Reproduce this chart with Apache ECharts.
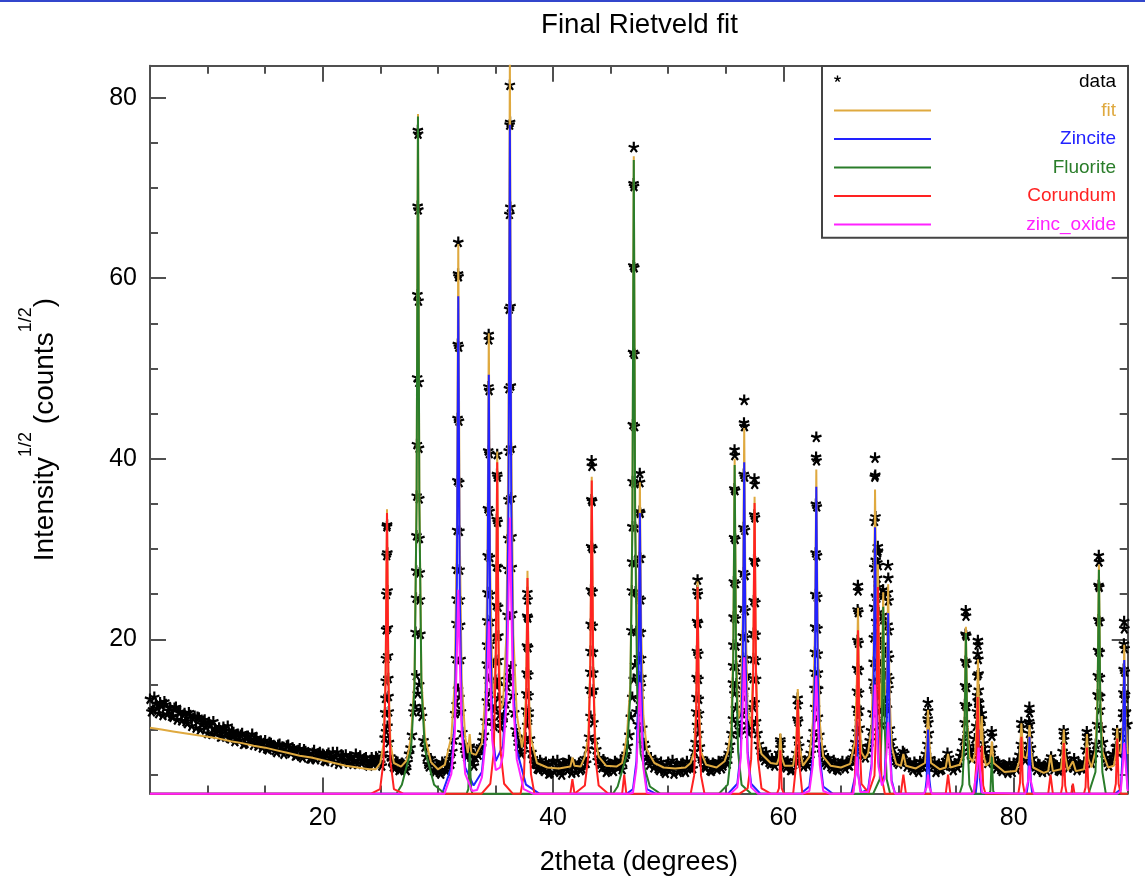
<!DOCTYPE html>
<html>
<head>
<meta charset="utf-8">
<title>Final Rietveld fit</title>
<script src="https://cdn.jsdelivr.net/npm/echarts@6.0.0/dist/echarts.min.js"></script>
<style>
  html, body { margin: 0; padding: 0; background: #fff; }
  #chart { width: 1145px; height: 882px; }
</style>
</head>
<body>
<div id="chart"></div>
<script>
const $ = document.querySelector.bind(document)

// axis ranges and ticks
const xMin = 5, xMax = 89.9
const yMin = 2.91, yMax = 83.54
const xMajorTicks = [20, 40, 60, 80]
const xMinorTicks = [10, 15, 25, 30, 35, 45, 50, 55, 65, 70, 75, 85]
const yMajorTicks = [20, 40, 60, 80]
const yMinorTicks = [5, 10, 15, 25, 30, 35, 45, 50, 55, 65, 70, 75]

// observed data, coarse scan A (start 5, step 0.25)
const obsStart = 5, obsStep = 0.25
const obsGrid = [
  13.4, 12.2, 12.9, 11.8, 12.6, 13.1, 11.7, 12.4, 11.4, 12.5, 11.9, 11.0,
  11.8, 10.7, 11.6, 11.2, 10.2, 11.3, 10.6, 11.1, 9.6, 10.5, 10.9, 9.7,
  10.2, 9.3, 9.9, 10.4, 9.0, 9.7, 9.2, 8.8, 9.6, 8.5, 9.3, 8.9,
  8.3, 9.1, 8.4, 8.0, 8.8, 7.8, 8.5, 8.2, 7.5, 8.4, 8.1, 7.6,
  8.3, 7.4, 7.8, 7.2, 7.9, 6.9, 7.6, 7.3, 6.8, 7.7, 7.0, 7.5,
  7.3, 6.5, 7.4, 6.8, 6.4, 7.5, 6.7, 7.1, 7.2, 6.3, 6.9, 6.6,
  6.2, 7.1, 6.5, 6.9, 6.0, 6.9, 6.3, 6.8, 6.3, 7.4, 9.8, 8.6,
  6.6, 5.7, 6.4, 5.6, 6.2, 5.5, 7.3, 9.4, 12.6, 14.0, 12.2, 8.8,
  7.0, 5.9, 6.5, 5.3, 5.9, 5.1, 6.2, 5.4, 6.8, 7.6, 11.8, 14.5,
  12.0, 8.3, 7.0, 8.0, 6.4, 6.9, 7.2, 8.1, 9.4, 13.2, 14.0, 11.0,
  12.4, 13.5, 10.2, 11.6, 14.8, 16.0, 13.8, 10.0, 8.2, 7.3, 8.4, 10.5,
  9.0, 6.8, 6.2, 5.6, 6.3, 5.4, 6.0, 5.2, 6.5, 5.6, 6.1, 5.0,
  6.2, 5.5, 6.4, 5.9, 5.3, 6.3, 5.7, 6.8, 7.9, 11.5, 10.8, 7.8,
  6.9, 5.8, 6.4, 5.5, 6.1, 5.4, 6.3, 6.0, 5.6, 7.0, 8.2, 11.4,
  15.6, 12.0, 13.4, 10.2, 8.0, 6.6, 6.9, 5.8, 6.3, 5.5, 6.0, 5.2,
  6.4, 5.7, 5.1, 6.2, 5.5, 6.3, 5.3, 6.0, 6.4, 7.6, 10.5, 8.1,
  6.5, 5.8, 6.2, 5.4, 6.1, 5.6, 6.4, 6.0, 6.8, 7.4, 9.6, 14.0,
  10.8, 10.0, 13.6, 12.2, 9.6, 10.4, 13.0, 9.6, 7.8, 7.0, 7.5, 6.4,
  6.8, 6.0, 6.6, 8.0, 6.5, 5.8, 6.2, 5.6, 6.6, 9.0, 6.9, 5.9,
  6.3, 6.8, 8.6, 12.5, 11.4, 8.0, 7.0, 6.1, 6.5, 5.7, 6.3, 5.5,
  6.2, 5.9, 6.4, 6.0, 6.9, 8.6, 11.5, 8.2, 7.2, 7.6, 8.8, 11.9,
  14.2, 13.6, 10.6, 11.8, 12.4, 10.1, 7.9, 6.6, 6.2, 6.9, 7.4, 5.9,
  6.3, 5.5, 6.1, 5.3, 6.0, 6.6, 8.4, 6.8, 5.9, 5.3, 6.2, 5.6,
  6.0, 7.4, 6.3, 5.5, 6.1, 6.6, 7.6, 10.8, 9.6, 7.2, 7.8, 10.4,
  11.2, 9.6, 7.5, 6.3, 7.1, 6.8, 5.7, 6.2, 5.4, 6.0, 5.2, 5.8,
  6.3, 5.6, 7.2, 7.9, 6.6, 8.4, 8.0, 6.2, 5.5, 6.1, 5.3, 5.9,
  6.2, 7.0, 5.6, 6.0, 5.4, 7.6, 7.3, 5.8, 6.4, 6.8, 5.5, 6.1,
  5.7, 7.8, 7.4, 6.3, 7.5, 10.6, 12.2, 8.6, 6.9, 6.0, 6.6, 7.0,
  8.2, 7.6, 11.4, 12.0
]

// observed data, coarse scan B (start 5.125, step 0.25)
const obsStartB = 5.125
const obsGridB = [
  12.0, 13.6, 12.4, 13.0, 11.6, 12.8, 12.1, 11.5, 12.4, 11.1, 12.0, 11.6,
  10.9, 11.9, 10.4, 11.5, 11.4, 10.0, 10.8, 10.3, 10.8, 9.5, 10.1, 9.9,
  9.2, 10.3, 9.6, 9.1, 9.8, 8.7, 9.5, 9.4, 8.4, 9.2, 8.8, 9.5,
  8.9, 8.2, 8.7, 8.5, 7.9, 8.6, 8.0, 7.7, 8.3, 7.7, 7.3, 8.2,
  7.6, 8.0, 7.1, 7.7, 7.1, 7.8, 7.2, 6.8, 7.4, 6.7, 7.3, 6.9,
  6.6, 7.2, 6.9, 7.5, 7.0, 6.2, 7.2, 6.5, 6.5, 7.0, 6.2, 7.3,
  6.9, 6.3, 6.8, 6.1, 6.6, 6.2, 7.0, 6.4, 6.0, 9.1, 10.4, 7.0,
  5.9, 6.5, 5.5, 6.3, 5.7, 6.4, 8.0, 12.0, 16.0, 15.0, 11.5, 8.1,
  6.2, 6.8, 5.5, 6.1, 5.3, 6.4, 5.6, 6.0, 6.2, 8.9, 12.8, 13.6,
  9.7, 7.4, 7.9, 7.2, 6.0, 7.4, 7.9, 8.8, 11.0, 15.6, 12.6, 10.4,
  14.8, 11.7, 10.8, 12.9, 15.5, 17.0, 11.9, 9.2, 7.6, 8.7, 9.1, 11.4,
  7.5, 6.3, 5.7, 6.6, 5.6, 6.4, 5.1, 6.2, 5.3, 6.6, 5.4, 6.3,
  5.7, 6.6, 5.2, 6.1, 6.0, 5.5, 6.5, 6.3, 9.2, 14.0, 8.9, 6.6,
  6.2, 6.7, 5.3, 6.2, 5.6, 6.5, 5.8, 6.6, 6.4, 7.3, 9.4, 13.6,
  17.2, 10.6, 14.8, 8.5, 7.0, 6.1, 6.4, 6.6, 5.7, 6.4, 5.4, 6.1,
  5.5, 6.6, 5.9, 5.3, 6.2, 5.6, 6.5, 5.8, 5.7, 8.6, 9.6, 6.8,
  5.9, 6.4, 5.5, 6.3, 5.8, 6.5, 5.7, 6.6, 6.2, 8.3, 11.2, 12.4,
  9.5, 11.8, 14.4, 10.6, 10.8, 12.5, 10.9, 8.4, 7.2, 6.6, 6.8, 6.2,
  6.3, 6.9, 7.4, 6.7, 6.0, 6.5, 5.5, 6.2, 7.4, 8.2, 6.3, 6.5,
  6.0, 7.4, 9.8, 14.6, 9.4, 7.5, 6.4, 6.8, 5.9, 6.6, 5.6, 6.1,
  6.5, 5.7, 6.1, 6.7, 7.6, 9.8, 10.2, 7.3, 6.9, 8.1, 9.9, 14.5,
  17.0, 12.1, 12.6, 13.2, 14.6, 8.8, 7.2, 6.4, 6.7, 7.6, 6.6, 6.3,
  5.8, 6.4, 5.6, 6.5, 5.9, 7.3, 9.6, 6.2, 6.4, 5.8, 5.5, 6.3,
  6.6, 6.9, 5.9, 6.2, 5.8, 7.1, 8.8, 12.6, 8.2, 6.8, 9.0, 13.2,
  10.4, 8.5, 6.9, 6.6, 8.0, 6.2, 6.4, 5.6, 6.1, 5.5, 6.3, 5.3,
  5.9, 6.6, 8.4, 6.9, 7.4, 9.6, 6.8, 5.9, 6.2, 5.6, 6.0, 5.4,
  6.6, 6.3, 6.1, 5.5, 6.2, 8.9, 6.4, 6.2, 5.8, 6.0, 6.3, 5.7,
  6.4, 8.8, 6.6, 6.9, 8.4, 13.8, 10.2, 7.4, 6.4, 6.5, 7.3, 8.1,
  7.4, 9.2, 13.5, 10.6
]

// observed data, points on the peak flanks [2theta, y]
const obsPeaks = [
  [25.57, 32.5], [25.55, 29.3], [25.53, 25.0], [25.51, 21.1], [25.49, 17.9], [25.47, 15.4], [25.45, 13.5], [25.43, 11.9],
  [25.59, 32.7], [25.61, 29.6], [25.63, 25.4], [25.65, 21.3], [25.67, 18.2], [25.69, 15.7], [25.71, 13.7], [25.73, 12.0],
  [28.26, 76.4], [28.24, 68.0], [28.22, 58.2], [28.20, 49.0], [28.18, 41.6], [28.16, 35.9], [28.14, 31.5], [28.12, 27.6], [28.10, 24.6], [28.06, 20.8],
  [28.28, 76.0], [28.30, 67.6], [28.32, 57.5], [28.34, 48.5], [28.36, 41.2], [28.38, 35.6], [28.40, 31.2], [28.42, 27.4], [28.44, 24.4], [28.48, 20.6],
  [31.77, 64.0], [31.75, 60.5], [31.79, 60.2], [31.73, 52.7], [31.81, 52.4], [31.71, 44.5], [31.83, 44.2], [31.69, 37.6], [31.85, 37.4],
  [31.67, 32.1], [31.87, 32.0], [31.65, 27.8], [31.89, 27.7], [31.63, 24.5], [31.91, 24.4], [31.61, 21.8], [31.93, 21.6], [31.57, 17.9], [31.97, 17.8],
  [32.74, 7.6], [32.76, 8.2], [32.78, 7.4],
  [34.41, 53.8], [34.43, 53.2], [34.39, 48.0], [34.45, 47.6], [34.37, 40.9], [34.47, 40.6], [34.35, 34.5], [34.49, 34.2], [34.33, 29.3],
  [34.51, 29.1], [34.31, 25.2], [34.53, 25.0], [34.29, 22.1], [34.55, 22.0], [34.27, 19.4], [34.57, 19.5], [34.25, 17.3], [34.59, 17.4],
  [35.15, 40.5], [35.13, 38.3], [35.17, 38.0], [35.11, 33.3], [35.19, 33.0], [35.09, 28.1], [35.21, 28.0], [35.07, 23.8],
  [35.23, 23.6], [35.05, 20.3], [35.25, 20.4], [35.03, 17.6], [35.27, 17.7], [35.01, 15.5], [35.29, 15.6],
  [36.25, 81.4], [36.23, 77.0], [36.27, 77.3], [36.21, 67.1], [36.29, 67.9], [36.19, 56.6], [36.31, 56.9], [36.17, 47.8], [36.33, 48.1],
  [36.15, 40.9], [36.35, 41.2], [36.13, 35.5], [36.37, 35.7], [36.11, 31.2], [36.39, 31.4], [36.09, 27.8], [36.41, 28.0], [36.05, 22.7], [36.45, 22.9],
  [37.77, 25.2], [37.79, 24.4], [37.75, 22.6], [37.81, 22.4], [37.73, 19.3], [37.83, 19.1], [37.71, 16.3], [37.85, 16.1], [37.69, 14.0], [37.87, 13.8], [37.67, 12.2], [37.89, 12.0],
  [43.35, 39.8], [43.37, 39.2], [43.33, 35.5], [43.39, 35.3], [43.31, 30.3], [43.41, 30.1], [43.29, 25.5], [43.43, 25.3],
  [43.27, 21.7], [43.45, 21.5], [43.25, 18.7], [43.47, 18.6], [43.23, 16.4], [43.49, 16.3], [43.21, 14.5], [43.51, 14.4],
  [47.01, 74.5], [46.99, 70.5], [47.03, 70.2], [46.97, 61.4], [47.05, 61.2], [46.95, 51.8], [47.07, 51.6], [46.93, 43.8], [47.09, 43.6],
  [46.91, 37.5], [47.11, 37.3], [46.89, 32.5], [47.13, 32.4], [46.87, 28.6], [47.15, 28.5], [46.85, 25.4], [47.17, 25.3], [46.81, 21.0], [47.21, 20.9],
  [47.53, 38.4], [47.55, 37.4], [47.51, 34.2], [47.57, 34.0], [47.49, 29.1], [47.59, 29.0], [47.47, 24.6], [47.61, 24.4],
  [47.45, 20.9], [47.63, 20.8], [47.43, 18.0], [47.65, 17.9], [47.41, 15.9], [47.67, 15.8],
  [52.55, 26.6], [52.53, 25.4], [52.57, 25.0], [52.51, 22.0], [52.59, 21.8], [52.49, 18.7], [52.61, 18.4], [52.47, 15.8], [52.63, 15.6],
  [52.45, 13.6], [52.65, 13.4], [52.43, 12.0], [52.67, 11.8],
  [55.76, 41.0], [55.78, 40.4], [55.74, 36.7], [55.80, 36.5], [55.72, 31.3], [55.82, 31.1], [55.70, 26.4], [55.84, 26.2],
  [55.68, 22.5], [55.86, 22.3], [55.66, 19.4], [55.88, 19.3], [55.64, 17.1], [55.90, 17.0], [55.62, 15.2], [55.92, 15.1],
  [56.60, 46.5], [56.58, 44.0], [56.62, 43.6], [56.56, 38.3], [56.64, 38.0], [56.54, 32.4], [56.66, 32.1], [56.52, 27.4], [56.68, 27.1],
  [56.50, 23.5], [56.70, 23.2], [56.48, 20.4], [56.72, 20.2], [56.46, 18.0], [56.74, 17.9], [56.44, 16.1], [56.76, 16.0],
  [57.49, 37.8], [57.51, 37.2], [57.47, 33.8], [57.53, 33.5], [57.45, 28.8], [57.55, 28.6], [57.43, 24.3], [57.57, 24.1],
  [57.41, 20.7], [57.59, 20.5], [57.39, 17.9], [57.61, 17.7], [57.37, 15.7], [57.63, 15.6],
  [59.73, 8.9], [59.75, 8.6], [61.24, 13.5], [61.26, 12.8], [61.22, 11.2], [61.28, 10.9],
  [62.86, 42.4], [62.84, 40.2], [62.88, 39.8], [62.82, 35.0], [62.90, 34.7], [62.80, 29.6], [62.92, 29.3], [62.78, 25.0], [62.94, 24.7],
  [62.76, 21.4], [62.96, 21.2], [62.74, 18.6], [62.98, 18.4], [62.72, 16.4], [63.00, 16.3], [62.70, 14.6], [63.02, 14.5],
  [66.47, 26.0], [66.49, 25.4], [66.45, 23.3], [66.51, 23.0], [66.43, 19.9], [66.53, 19.6], [66.41, 16.8], [66.55, 16.6], [66.39, 14.3], [66.57, 14.1], [66.37, 12.4], [66.59, 12.2],
  [67.96, 40.1], [67.94, 38.0], [67.98, 38.2], [67.92, 33.1], [68.00, 33.6], [67.90, 28.0], [68.02, 28.8], [67.88, 23.6],
  [68.04, 24.8], [67.86, 20.2], [68.06, 22.0], [67.84, 17.5], [68.08, 20.5], [67.82, 15.4], [68.10, 20.0],
  [68.12, 24.6], [68.14, 26.8], [68.16, 28.5], [68.18, 29.6], [68.20, 30.3], [68.22, 29.8], [68.24, 28.2], [68.26, 25.8],
  [68.28, 23.0], [68.30, 20.1], [68.32, 17.6], [68.34, 15.5],
  [68.66, 25.5], [68.68, 24.9], [68.64, 22.7], [68.70, 22.2], [68.62, 19.4], [68.72, 19.0], [68.60, 16.6], [68.74, 16.3],
  [69.09, 28.2], [69.11, 26.8], [69.07, 25.2], [69.13, 24.3], [69.05, 21.6], [69.15, 21.0], [69.03, 18.5], [69.17, 18.0], [69.01, 16.0], [69.19, 15.6],
  [72.55, 13.0], [72.57, 12.1], [72.53, 11.2], [72.59, 10.8],
  [75.84, 23.2], [75.86, 22.6], [75.82, 20.6], [75.88, 20.4], [75.80, 17.6], [75.90, 17.4], [75.78, 14.9], [75.92, 14.7], [75.76, 12.8], [75.94, 12.6],
  [76.89, 19.9], [76.91, 19.4], [76.87, 18.4], [76.93, 17.8], [76.85, 16.0], [76.95, 16.2], [76.83, 13.8], [76.97, 14.4],
  [76.81, 12.0], [76.99, 13.0], [77.01, 12.4], [77.22, 11.8], [77.24, 11.2],
  [78.09, 9.8], [78.11, 9.3], [80.66, 10.8], [80.68, 10.2], [81.36, 12.5], [81.38, 11.9], [81.34, 10.9], [81.40, 10.6],
  [84.34, 9.9], [84.36, 9.5], [86.35, 9.8], [86.37, 9.3],
  [87.39, 29.3], [87.41, 28.6], [87.37, 26.0], [87.43, 25.8], [87.35, 22.2], [87.45, 22.0], [87.33, 18.8], [87.47, 18.6],
  [87.31, 16.0], [87.49, 15.8], [87.29, 13.9], [87.51, 13.7],
  [88.98, 9.9], [89.00, 9.4],
  [89.59, 22.0], [89.61, 21.2], [89.57, 19.5], [89.63, 19.0], [89.55, 16.7], [89.65, 16.4], [89.53, 14.1], [89.67, 13.9], [89.51, 12.0], [89.69, 11.9]
]

// fitted pattern
const fitCurve = [
  [5, 10.2], [6, 10.0], [7, 9.8], [8, 9.6], [9, 9.4], [10, 9.2], [11, 9.0], [12, 8.7], [13, 8.5], [14, 8.2], [15, 8.0], [16, 7.7],
  [17, 7.4], [18, 7.1], [19, 6.9], [20, 6.6], [21, 6.3], [22, 6.0], [23, 5.8], [24, 5.6], [24.6, 5.6],
  [25.0, 6.3], [25.28, 8.4], [25.46, 16.2], [25.58, 34.4], [25.70, 16.2], [25.88, 8.4], [26.18, 6.3], [26.8, 5.9], [27.3, 6.6],
  [27.67, 9.2], [27.97, 15.6], [28.15, 35.4], [28.27, 78.2], [28.39, 35.4], [28.57, 15.6], [28.87, 9.2], [29.4, 6.4], [30.0, 5.6], [30.6, 6.1],
  [31.17, 9.2], [31.47, 15.5], [31.65, 32.3], [31.77, 63.8], [31.89, 32.3], [32.07, 15.5], [32.37, 9.2], [32.6, 7.4], [32.76, 9.5], [32.9, 7.4], [33.3, 7.2],
  [33.82, 8.5], [34.12, 13.7], [34.30, 27.8], [34.42, 53.9], [34.54, 27.8], [34.72, 15.4], [34.9, 13.5], [35.03, 19.5], [35.15, 40.8],
  [35.27, 19.6], [35.45, 12.2], [35.65, 12.8], [35.95, 20.5], [36.13, 42.6], [36.25, 84.6], [36.37, 42.6], [36.55, 20.5], [36.85, 11.7],
  [37.3, 8.0], [37.48, 9.6], [37.66, 14.1], [37.78, 27.6], [37.90, 14.0], [38.08, 9.0], [38.6, 6.3],
  [39.5, 5.8], [40.5, 5.7], [41.5, 5.9], [41.68, 6.9], [41.86, 6.0], [42.4, 5.9], [42.76, 7.0], [43.06, 9.2], [43.24, 17.8], [43.36, 38.0],
  [43.48, 17.8], [43.66, 9.2], [43.96, 7.0], [44.6, 6.0], [45.5, 5.9],
  [46.0, 6.3], [46.18, 7.5], [46.41, 9.3], [46.71, 15.0], [46.89, 33.4], [47.01, 73.5], [47.13, 34.0], [47.31, 18.4], [47.42, 22.1],
  [47.54, 37.4], [47.66, 20.9], [47.84, 11.6], [48.14, 7.8], [48.8, 6.3],
  [49.6, 5.8], [50.6, 5.7], [51.5, 5.8], [51.95, 6.3], [52.25, 7.5], [52.43, 12.8], [52.55, 26.4], [52.67, 12.8], [52.85, 7.5], [53.3, 6.1], [54.2, 5.8],
  [54.9, 6.5], [55.17, 7.5], [55.47, 10.0], [55.65, 19.1], [55.77, 40.0], [55.89, 19.3], [56.07, 11.2], [56.3, 12.3], [56.48, 22.8],
  [56.6, 43.4], [56.72, 22.6], [56.9, 12.1], [57.2, 10.3], [57.38, 17.3], [57.5, 35.8], [57.62, 16.9], [57.8, 9.2], [58.1, 7.3], [58.9, 6.3],
  [59.45, 6.2], [59.62, 6.9], [59.74, 9.6], [59.86, 6.9], [60.1, 6.0], [60.85, 6.0], [61.1, 8.2], [61.25, 14.5], [61.4, 8.2], [61.7, 6.0],
  [62.26, 7.0], [62.56, 10.8], [62.74, 20.9], [62.86, 38.8], [62.98, 20.9], [63.16, 10.8], [63.46, 7.0], [64.1, 6.0], [65.0, 5.8],
  [65.8, 6.2], [66.22, 8.8], [66.38, 15.5], [66.48, 23.5], [66.60, 12.0], [66.78, 7.5], [67.1, 6.8], [67.36, 7.4], [67.66, 10.4],
  [67.84, 19.4], [67.96, 36.6], [68.08, 22.3], [68.21, 28.3], [68.33, 15.3], [68.5, 12.4], [68.67, 25.2], [68.79, 13.8], [68.98, 15.1],
  [69.10, 26.1], [69.22, 14.2], [69.4, 8.1], [69.8, 6.2],
  [70.2, 6.0], [70.42, 7.3], [70.64, 6.0], [71.5, 5.7], [72.3, 6.3], [72.44, 8.6], [72.56, 12.2], [72.68, 8.6], [72.82, 6.3], [73.6, 5.6],
  [74.1, 5.8], [74.3, 7.3], [74.5, 5.8],
  [75.3, 6.1], [75.55, 7.0], [75.73, 10.7], [75.85, 21.4], [75.97, 10.7], [76.15, 7.0], [76.45, 6.4], [76.65, 7.5], [76.78, 10.6],
  [76.9, 17.8], [77.03, 9.6], [77.13, 8.8], [77.23, 11.5], [77.35, 7.4], [77.6, 6.0], [77.95, 6.4], [78.1, 8.7], [78.25, 6.3],
  [79.2, 5.3], [80.2, 5.4], [80.5, 6.5], [80.67, 10.7], [80.84, 7.0], [81.1, 6.8], [81.25, 7.8], [81.37, 10.5], [81.49, 7.8], [81.7, 5.8],
  [82.6, 5.2], [83.0, 5.4], [83.2, 7.2], [83.4, 5.4], [84.1, 5.6], [84.23, 7.1], [84.35, 10.0], [84.47, 7.1], [84.7, 5.5], [85.14, 6.5],
  [85.4, 5.4], [86.1, 5.6], [86.24, 6.8], [86.36, 9.5], [86.48, 6.8], [86.75, 5.8], [87.1, 7.6], [87.28, 13.6], [87.4, 28.3], [87.52, 13.6],
  [87.7, 7.6], [88.2, 5.8], [88.7, 6.0], [88.87, 7.3], [88.99, 10.2], [89.11, 7.4], [89.3, 7.4], [89.48, 10.6], [89.6, 19.4], [89.72, 10.6], [89.9, 7.3]
]

// phase contributions (held at the bottom edge of the plot)
const zinciteCurve = [
  [5, 2.9], [30.37, 2.9], [31.17, 5.8], [31.47, 11.0], [31.65, 26.1], [31.77, 58], [31.89, 26.1], [32.07, 11.0], [32.37, 5.8], [33.1, 3.8],
  [33.82, 5.3], [34.12, 9.4], [34.30, 22.2], [34.42, 49.3], [34.54, 22.2], [34.72, 10.0], [35.02, 6.5], [35.65, 8.2], [35.95, 14.7],
  [36.13, 34.7], [36.25, 77], [36.37, 34.7], [36.55, 14.6], [36.85, 7.7], [37.65, 3.9], [38.8, 2.9],
  [46.4, 2.9], [46.94, 3.4], [47.24, 6.5], [47.42, 15.3], [47.54, 34], [47.66, 15.3], [47.84, 6.5], [48.14, 3.4], [48.9, 2.9],
  [55.2, 2.9], [56.0, 4.0], [56.3, 7.5], [56.48, 17.8], [56.6, 39.6], [56.72, 17.8], [56.9, 7.5], [57.2, 4.0], [58.0, 2.9],
  [61.5, 2.9], [62.26, 3.7], [62.56, 7.0], [62.74, 16.6], [62.86, 36.9], [62.98, 16.6], [63.16, 7.0], [63.46, 3.7], [64.3, 2.9],
  [65.9, 2.9], [66.26, 5.0], [66.38, 11], [66.5, 5.0], [66.75, 3.0], [67.36, 3.4], [67.66, 6.2], [67.84, 14.6], [67.96, 32.4],
  [68.08, 14.6], [68.26, 6.4], [68.56, 4.1], [68.8, 5.0], [68.98, 10.5], [69.10, 22.9], [69.22, 10.3], [69.4, 4.4], [69.7, 2.9],
  [72.3, 2.9], [72.44, 4.5], [72.56, 10], [72.68, 4.5], [72.82, 2.9],
  [76.7, 2.9], [76.83, 4.5], [76.95, 10], [77.07, 4.5], [77.2, 2.9],
  [81.12, 2.9], [81.25, 4.1], [81.37, 9.2], [81.49, 4.1], [81.62, 2.9],
  [88.8, 2.9], [89.3, 3.4], [89.48, 8.0], [89.6, 17.7], [89.72, 8.0], [89.9, 3.4]
]
const fluoriteCurve = [
  [5, 2.9], [26.4, 2.9], [26.87, 3.9], [27.67, 7.8], [27.97, 14.8], [28.15, 35.1], [28.27, 77.9], [28.39, 35.1], [28.57, 14.8],
  [28.87, 7.8], [29.67, 3.9], [30.6, 2.9],
  [32.5, 2.9], [32.64, 3.4], [32.76, 7.5], [32.88, 3.4], [33.0, 2.9],
  [45.2, 2.9], [45.61, 3.7], [46.41, 7.3], [46.71, 13.9], [46.89, 32.9], [47.01, 73.1], [47.13, 32.9], [47.31, 13.9], [47.61, 7.3],
  [48.41, 3.7], [49.3, 2.9],
  [54.4, 2.9], [55.17, 3.9], [55.47, 7.5], [55.65, 17.7], [55.77, 39.3], [55.89, 17.7], [56.07, 7.5], [56.37, 3.9], [57.2, 2.9],
  [67.8, 2.9], [68.37, 4.5], [68.55, 10.6], [68.67, 23.6], [68.79, 10.6], [68.97, 4.5], [69.27, 2.9],
  [75.3, 2.9], [75.55, 3.9], [75.73, 9.3], [75.85, 20.7], [75.97, 9.3], [76.15, 3.9], [76.45, 2.9],
  [77.85, 2.9], [77.98, 3.2], [78.1, 7], [78.22, 3.2], [78.35, 2.9],
  [86.5, 2.9], [87.1, 5.3], [87.28, 12.5], [87.4, 27.7], [87.52, 12.5], [87.7, 5.3], [88.0, 2.9], [89.9, 2.9]
]
const corundumCurve = [
  [5, 2.9], [24.2, 2.9], [24.98, 3.4], [25.28, 6.5], [25.46, 15.3], [25.58, 34], [25.7, 15.3], [25.88, 6.5], [26.18, 3.4], [27.0, 2.9],
  [33.8, 2.9], [34.55, 4.0], [34.85, 7.5], [35.03, 17.8], [35.15, 39.6], [35.27, 17.8], [35.45, 7.5], [35.75, 4.0], [36.5, 2.9],
  [37.18, 2.9], [37.48, 5.1], [37.66, 12.1], [37.78, 26.8], [37.9, 12.1], [38.08, 5.1], [38.38, 2.9],
  [41.5, 2.9], [41.68, 4.5], [41.86, 2.9],
  [42.0, 2.9], [42.76, 3.8], [43.06, 7.1], [43.24, 16.9], [43.36, 37.6], [43.48, 16.9], [43.66, 7.1], [43.96, 3.8], [44.8, 2.9],
  [46.0, 2.9], [46.18, 5], [46.36, 2.9],
  [51.95, 2.9], [52.25, 4.9], [52.43, 11.6], [52.55, 25.8], [52.67, 11.6], [52.85, 4.9], [53.15, 2.9],
  [56.2, 2.9], [56.9, 3.5], [57.2, 6.7], [57.38, 15.8], [57.5, 35.1], [57.62, 15.8], [57.8, 6.7], [58.1, 3.5], [58.9, 2.9],
  [59.45, 2.9], [59.62, 3.5], [59.74, 7.7], [59.86, 3.5], [60.05, 2.9],
  [60.85, 2.9], [61.1, 6.0], [61.25, 13.3], [61.4, 6.0], [61.65, 2.9],
  [66.0, 2.9], [66.18, 4.0], [66.36, 9.5], [66.48, 21], [66.6, 9.5], [66.78, 4.0], [67.4, 3.0],
  [67.91, 4.9], [68.09, 11.6], [68.21, 25.8], [68.33, 11.6], [68.51, 4.9], [68.81, 2.9],
  [70.2, 2.9], [70.42, 5], [70.64, 2.9],
  [74.1, 2.9], [74.3, 5], [74.5, 2.9],
  [76.3, 2.9], [76.57, 3.0], [76.75, 6.1], [76.87, 13.6], [76.99, 6.4], [77.1, 4.6], [77.23, 8.2], [77.35, 3.8], [77.55, 2.9],
  [80.4, 2.9], [80.55, 4.1], [80.67, 9.2], [80.79, 4.1], [80.95, 2.9],
  [83.0, 2.9], [83.2, 5], [83.4, 2.9],
  [84.1, 2.9], [84.23, 3.8], [84.35, 8.5], [84.47, 3.8], [84.6, 2.9],
  [85.0, 2.9], [85.14, 4], [85.28, 2.9],
  [86.1, 2.9], [86.24, 3.6], [86.36, 8], [86.48, 3.6], [86.6, 2.9],
  [88.7, 2.9], [88.87, 4.0], [88.99, 9], [89.11, 4.0], [89.3, 2.9], [89.9, 2.9]
]
const zincOxideCurve = [
  [5, 2.9], [29.77, 2.9], [30.57, 2.9], [31.17, 5.1], [31.47, 9.7], [31.65, 18.4], [31.77, 25.5], [31.89, 18.4], [32.07, 9.7],
  [32.37, 5.1], [32.97, 3.2], [33.4, 3.3],
  [33.82, 4.7], [34.12, 8.4], [34.30, 15.8], [34.42, 22], [34.54, 15.8], [34.72, 8.8], [35.02, 5.5], [35.4, 5.8], [35.65, 7.1],
  [35.95, 12.8], [36.13, 24.1], [36.25, 33.5], [36.37, 24.1], [36.55, 12.7], [36.85, 6.7], [37.45, 3.4], [38.25, 2.9],
  [46.6, 2.9], [46.94, 3.0], [47.24, 5.8], [47.42, 10.9], [47.54, 15.2], [47.66, 10.9], [47.84, 5.8], [48.14, 3.0], [48.7, 2.9],
  [55.4, 2.9], [56.0, 3.6], [56.3, 6.8], [56.48, 13.0], [56.6, 18], [56.72, 13.0], [56.9, 6.8], [57.2, 3.6], [57.8, 2.9],
  [61.7, 2.9], [62.26, 3.2], [62.56, 6.1], [62.74, 11.5], [62.86, 16], [62.98, 11.5], [63.16, 6.1], [63.46, 3.2], [64.0, 2.9],
  [65.7, 2.9], [66.08, 2.9], [66.26, 5.0], [66.38, 7], [66.5, 5.0], [66.68, 3.1], [67.36, 3.1], [67.66, 5.7], [67.84, 10.8],
  [67.96, 15], [68.08, 10.8], [68.26, 5.9], [68.56, 3.8], [68.8, 4.6], [68.98, 7.9], [69.1, 10.8], [69.22, 7.8], [69.4, 4.1], [69.7, 2.9],
  [72.2, 2.9], [72.44, 3.6], [72.56, 5], [72.68, 3.6], [72.9, 2.9],
  [76.5, 2.9], [76.65, 3.0], [76.83, 5.8], [76.95, 8], [77.07, 5.8], [77.25, 3.0], [77.4, 2.9],
  [81.0, 2.9], [81.25, 4.3], [81.37, 6], [81.49, 4.3], [81.75, 2.9],
  [89.0, 2.9], [89.3, 3.2], [89.48, 6.1], [89.6, 8.5], [89.72, 6.1], [89.9, 3.2]
]

const legendNames = ['data', 'fit', 'Zincite', 'Fluorite', 'Corundum', 'zinc_oxide']
const colors = ['#000000', '#dfa93f', '#2222ff', '#2a7d2a', '#ff2222', '#ff22ff']

const font = "'Liberation Sans', Arial, sans-serif"
const axisColor = '#505050'

// five-arm asterisk marker
const starPath = 'path://M12 10L12 0L8 0L8 10Z M10.62 11.9L20.13 8.81L18.89 5.01L9.38 8.1Z ' +
  'M8.38 11.18L14.26 19.27L17.5 16.91L11.62 8.82Z M8.38 8.82L2.5 16.91L5.74 19.27L11.62 11.18Z ' +
  'M10.62 8.1L1.11 5.01L-0.13 8.81L9.38 11.9Z'
// same asterisk, with an empty point far right so it sits at the left of the legend slot
const legendStarPath = starPath + ' M280 38L280.01 38Z'
// plain line for the curve entries of the legend
const legendLinePath = 'path://M0 0L100 0L100 2L0 2Z'

window.onload = () => {
  renderChart()
}

function toAccuracy(val, n) {
  return Number(val.toFixed(n))
}

// x / y axis builder
function makeAxis(position, ticks, len, showLine) {
  return {
    type: 'value',
    position,
    splitLine: { show: false },
    axisLine: { show: showLine, onZero: false, lineStyle: { color: axisColor, width: 2 } },
    axisTick: { show: true, inside: true, length: len, customValues: ticks, lineStyle: { color: axisColor, width: 2 } },
    axisLabel: { show: false }
  }
}

function renderChart() {
  const obsData = obsGrid.map((y, i) => [toAccuracy(obsStart + i * obsStep, 3), y])
    .concat(obsGridB.map((y, i) => [toAccuracy(obsStartB + i * obsStep, 3), y]))
    .concat(obsPeaks)

  const xBottom = makeAxis('bottom', xMajorTicks, 16, true)
  xBottom.axisLabel = {
    show: true, customValues: xMajorTicks, margin: 12,
    color: '#000', fontSize: 25, fontFamily: font
  }
  xBottom.name = '2theta (degrees)'
  xBottom.nameLocation = 'middle'
  xBottom.nameGap = 55
  xBottom.nameTextStyle = { color: '#000', fontSize: 27, fontFamily: font }

  const yLeft = makeAxis('left', yMajorTicks, 16, true)
  yLeft.axisLabel = {
    show: true, customValues: yMajorTicks, margin: 13,
    color: '#000', fontSize: 25, fontFamily: font
  }
  yLeft.name = '{a|Intensity}{s|1/2}{a| (counts}{s|1/2}{a|)}'
  yLeft.nameLocation = 'middle'
  yLeft.nameRotate = 90
  yLeft.nameGap = 77
  yLeft.nameTextStyle = {
    color: '#000', fontFamily: font,
    rich: {
      a: { fontSize: 28, lineHeight: 56, color: '#000', fontFamily: font },
      s: { fontSize: 18, lineHeight: 16, verticalAlign: 'top', color: '#000', fontFamily: font }
    }
  }

  const xAxes = [
    xBottom,
    makeAxis('bottom', xMinorTicks, 8, false),
    makeAxis('top', xMajorTicks, 16, true),
    makeAxis('top', xMinorTicks, 8, false)
  ].map(a => Object.assign(a, { min: xMin, max: xMax }))

  const yAxes = [
    yLeft,
    makeAxis('left', yMinorTicks, 8, false),
    makeAxis('right', yMajorTicks, 16, true),
    makeAxis('right', yMinorTicks, 8, false)
  ].map(a => Object.assign(a, { min: yMin, max: yMax }))

  const lineSeries = (name, data, color, clip) => ({
    name,
    type: 'line',
    data,
    showSymbol: false,
    symbol: 'none',
    clip,
    lineStyle: { color, width: 2 },
    itemStyle: { color },
    emphasis: { disabled: true },
    silent: true
  })

  const rich = {}
  legendNames.forEach((n, i) => {
    rich['k' + i] = { color: colors[i], width: 180, align: 'right', fontSize: 19, lineHeight: 20, fontFamily: font }
  })

  const option = {
    animation: false,
    backgroundColor: '#fff',
    title: {
      text: 'Final Rietveld fit',
      left: 536,
      top: 6,
      textStyle: { color: '#000', fontSize: 27.7, fontWeight: 'normal', fontFamily: font }
    },
    graphic: [
      { type: 'rect', shape: { x: 0, y: 0, width: 1145, height: 2 }, style: { fill: '#3246cc' } }
    ],
    grid: { left: 150, right: 17.3, top: 65.7, bottom: 88.4, containLabel: false },
    legend: {
      orient: 'vertical',
      left: 822,
      top: 66,
      padding: [6.5, 12, 3.8, 12],
      itemWidth: 97,
      itemHeight: 14,
      itemGap: 9.5,
      backgroundColor: '#fff',
      borderColor: '#444',
      borderWidth: 2,
      selectedMode: false,
      data: legendNames.map((n, i) => ({ name: n, icon: i === 0 ? legendStarPath : legendLinePath })),
      formatter: name => `{k${legendNames.indexOf(name)}|${name}}`,
      textStyle: { fontSize: 19, fontFamily: font, rich }
    },
    xAxis: xAxes,
    yAxis: yAxes,
    series: [
      {
        name: 'data',
        type: 'scatter',
        data: obsData,
        symbol: starPath,
        symbolSize: 11,
        itemStyle: { color: '#000', opacity: 1 },
        emphasis: { disabled: true },
        silent: true
      },
      lineSeries('fit', fitCurve, colors[1], true),
      lineSeries('Zincite', zinciteCurve, colors[2], false),
      lineSeries('Fluorite', fluoriteCurve, colors[3], false),
      lineSeries('Corundum', corundumCurve, colors[4], false),
      lineSeries('zinc_oxide', zincOxideCurve, colors[5], false)
    ]
  }

  const chart = echarts.init($('#chart'))
  chart.setOption(option)
}
</script>
</body>
</html>
